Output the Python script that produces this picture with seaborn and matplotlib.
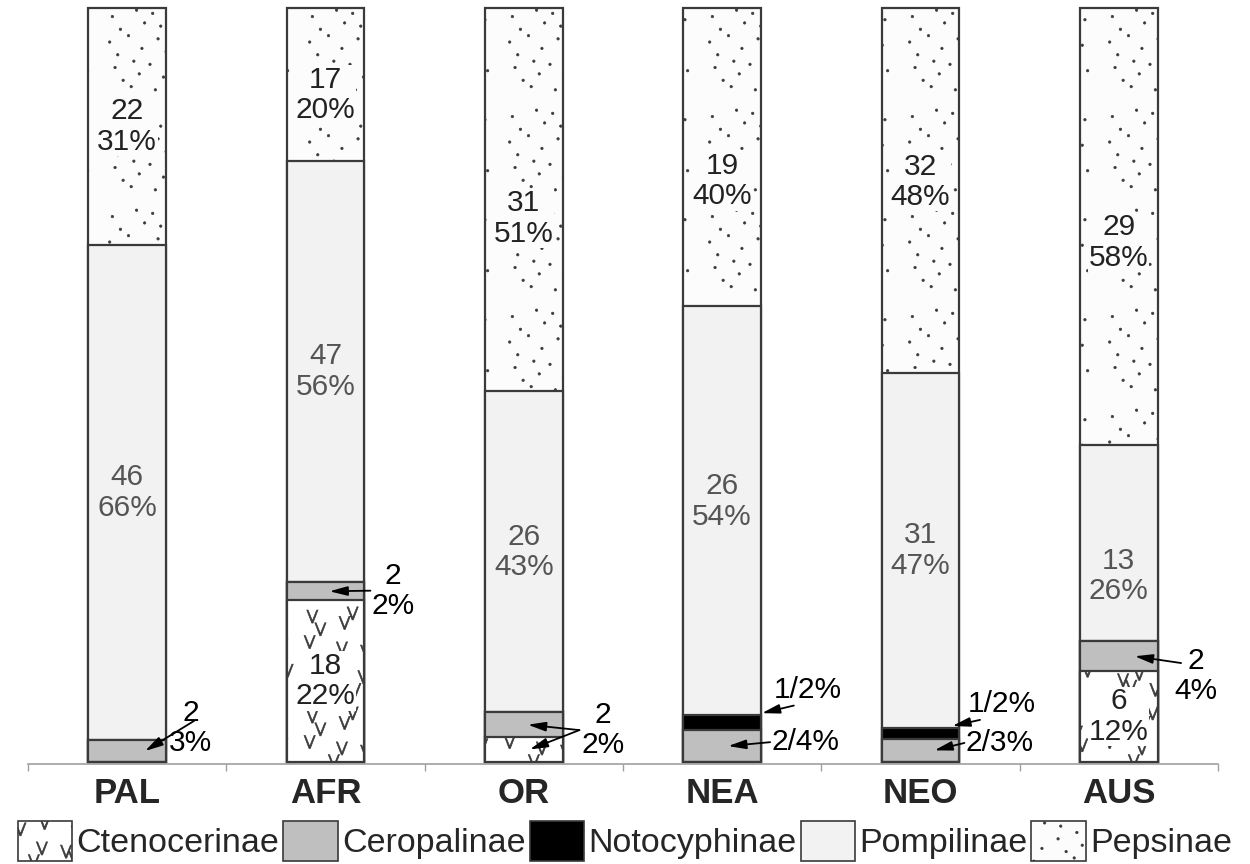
import warnings
import numpy as np
import pandas as pd
import seaborn as sns
import matplotlib
matplotlib.use("Agg")
import matplotlib.pyplot as plt
from matplotlib import hatch as mhatch
from matplotlib.path import Path
from matplotlib.patches import Patch

warnings.filterwarnings("ignore")

# data: species counts and printed percentages per region
regions = ["PAL", "AFR", "OR", "NEA", "NEO", "AUS"]
subfamilies = ["Ctenocerinae", "Ceropalinae", "Notocyphinae", "Pompilinae", "Pepsinae"]
ctenocerinae = [0, 18, 2, 0, 0, 6]
ceropalinae = [2, 2, 2, 2, 2, 2]
notocyphinae = [0, 0, 0, 1, 1, 0]
pompilinae = [46, 47, 26, 26, 31, 13]
pepsinae = [22, 17, 31, 19, 32, 29]

pct_cten = [0, 22, 2, 0, 0, 12]
pct_cero = [3, 2, 2, 4, 3, 4]
pct_noto = [0, 0, 0, 2, 2, 0]
pct_pomp = [66, 56, 43, 54, 47, 26]
pct_peps = [31, 20, 51, 40, 48, 58]


def halton(k, base):
    f, r = 1.0, 0.0
    while k > 0:
        f /= base
        r += f * (k % base)
        k //= base
    return r


def spread(n, shift):
    # scattered but even positions inside one hatch tile
    pts = np.array([[halton(k + shift, 2), halton(k + shift, 3)] for k in range(1, n + 1)])
    return pts * 0.86 + 0.07


class ScatterHatch(mhatch.HatchPatternBase):
    char = "?"
    per_tile = 0
    shift = 0
    verts = np.zeros((0, 2))
    kinds = np.zeros(0)

    def __init__(self, hatch, density):
        self.n = hatch.count(self.char) * self.per_tile
        self.num_vertices = self.n * len(self.verts)

    def set_vertices_and_codes(self, vertices, codes):
        pts = spread(self.n, self.shift)
        vertices[:] = (self.verts[None, :, :] + pts[:, None, :]).reshape(-1, 2)
        codes[:] = np.tile(self.kinds, self.n)


class VMarks(ScatterHatch):
    # little "v" ticks for Ctenocerinae, as thin filled chevrons
    char = "v"
    per_tile = 17
    shift = 5
    verts = np.array([[-0.056, 0.065], [-0.043, 0.065], [0.0, -0.042], [0.043, 0.065],
                      [0.056, 0.065], [0.006, -0.065], [-0.006, -0.065], [-0.056, 0.065]])
    kinds = np.array([Path.MOVETO] + [Path.LINETO] * 6 + [Path.CLOSEPOLY], dtype=Path.code_type)


_dot = Path.circle((0, 0), 0.012)


class Dots(ScatterHatch):
    # scattered dots for Pepsinae
    char = "p"
    per_tile = 26
    shift = 0
    verts = _dot.vertices
    kinds = _dot.codes


mhatch._hatch_types.extend([VMarks, Dots])

colors = {"Ctenocerinae": "#ffffff", "Ceropalinae": "#bfbfbf", "Notocyphinae": "#000000",
          "Pompilinae": "#f2f2f2", "Pepsinae": "#fcfcfc"}
hatches = {"Ctenocerinae": "v", "Ceropalinae": None, "Notocyphinae": None,
           "Pompilinae": None, "Pepsinae": "p"}
edge = "#3a3a3a"

sns.set_theme(style="white")
plt.rcParams["font.family"] = ["Liberation Sans", "DejaVu Sans"]
plt.rcParams["hatch.linewidth"] = 0.5

df = pd.DataFrame({"region": regions, "Ctenocerinae": ctenocerinae, "Ceropalinae": ceropalinae,
                   "Notocyphinae": notocyphinae, "Pompilinae": pompilinae, "Pepsinae": pepsinae})
counts = df[subfamilies]
share = counts.div(counts.sum(axis=1), axis=0) * 100
cum = share.cumsum(axis=1)
base = cum - share

fig, ax = plt.subplots(figsize=(12.5, 8.64), dpi=100)
fig.subplots_adjust(left=0.0224, right=0.9744, bottom=0.1157, top=0.9907)

# stacked bars drawn back to front
for name in reversed(subfamilies):
    sns.barplot(x=df["region"], y=cum[name], order=regions, color=colors[name],
                hatch=hatches[name], edgecolor=edge, linewidth=1.6, width=0.39,
                saturation=1, errorbar=None, clip_on=False, ax=ax)

ax.set_xlim(-0.5, 5.5)
ax.set_ylim(-0.3, 100)
ax.set_xlabel("")
ax.set_ylabel("")
ax.set_yticks([])
for s in ["left", "right", "top"]:
    ax.spines[s].set_visible(False)
ax.spines["bottom"].set_color("#a0a0a0")
ax.spines["bottom"].set_linewidth(1.2)
ax.set_xticks(range(len(regions)))
ax.set_xticklabels(regions, fontsize=25, fontweight="bold")
ax.set_xticks(np.arange(-0.5, 6, 1), minor=True)
ax.tick_params(axis="x", which="major", length=0, pad=9)
ax.tick_params(axis="x", which="minor", length=5, width=1, color="#a0a0a0", direction="out", bottom=True)

# labels inside large segments
label_shift = {("Pepsinae", "AFR"): -1.4, ("Pepsinae", "OR"): -2.5, ("Pepsinae", "NEA"): -3.2,
               ("Pepsinae", "NEO"): 1.2, ("Pepsinae", "AUS"): -2.1,
               ("Pompilinae", "NEA"): 1.2, ("Pompilinae", "AUS"): -4.4}
inside = {"Ctenocerinae": (ctenocerinae, pct_cten, "#222222"),
          "Pompilinae": (pompilinae, pct_pomp, "#555555"),
          "Pepsinae": (pepsinae, pct_peps, "#222222")}
for name, (vals, pcts, tc) in inside.items():
    for i, r in enumerate(regions):
        if share.loc[i, name] < 5:
            continue
        y = base.loc[i, name] + share.loc[i, name] / 2 + label_shift.get((name, r), 0)
        ax.text(i, y, f"{vals[i]}\n{pcts[i]}%", ha="center", va="center",
                fontsize=21.5, color=tc, linespacing=1.1,
                bbox=dict(facecolor=colors[name], edgecolor="none", pad=0.5))

ann_kw = dict(ha="center", va="center", fontsize=21.5, color="black", linespacing=1.1)


def arrow(relpos):
    return dict(arrowstyle="-|>,head_length=0.5,head_width=0.13", color="black", lw=1.3,
                shrinkA=0, shrinkB=0, patchA=None, relpos=relpos)


# small segments labelled with arrows (text positions are layout only)
cero_text = [(0.32, 4.5), (1.34, 22.7), (2.40, 4.2), (3.42, 2.6), (4.40, 2.5), (5.39, 11.4)]
cero_rel = [(0.58, 0.62), (-0.02, 0.5), (-0.05, 0.5), (-0.02, 0.5), (-0.02, 0.5), (0.15, 0.72)]
cero_tip_dx = [0.09, 0.02, 0.02, 0.03, 0.07, 0.08]
noto_text = {3: (3.43, 9.5), 4: (4.41, 7.6)}
noto_rel = {3: (0.3, -0.05), 4: (0.18, -0.05)}
noto_tip_dx = {3: 0.2, 4: 0.16}
for i, r in enumerate(regions):
    cero_mid = base.loc[i, "Ceropalinae"] + share.loc[i, "Ceropalinae"] / 2
    if notocyphinae[i] > 0:
        label = f"{ceropalinae[i]}/{pct_cero[i]}%"
    else:
        label = f"{ceropalinae[i]}\n{pct_cero[i]}%"
    ax.annotate(label, xy=(i + cero_tip_dx[i], cero_mid), xytext=cero_text[i],
                arrowprops=arrow(cero_rel[i]), **ann_kw)
    if notocyphinae[i] > 0:
        ax.annotate(f"{notocyphinae[i]}/{pct_noto[i]}%",
                    xy=(i + noto_tip_dx[i], cum.loc[i, "Notocyphinae"] + 0.2), xytext=noto_text[i],
                    arrowprops=arrow(noto_rel[i]), **ann_kw)
    if 0 < share.loc[i, "Ctenocerinae"] < 5:
        cten_mid = share.loc[i, "Ctenocerinae"] / 2
        hidden = dict(ann_kw, color=(0, 0, 0, 0))
        ax.annotate(label, xy=(i + 0.03, cten_mid), xytext=cero_text[i],
                    arrowprops=arrow(cero_rel[i]), **hidden)

handles = [Patch(facecolor=colors[n], edgecolor=edge, hatch=hatches[n], linewidth=1.2, label=n)
           for n in subfamilies]
fig.legend(handles=handles, loc="lower center", bbox_to_anchor=(0.5, 0.0), ncol=5,
           frameon=False, fontsize=24.5, handlelength=1.6, handleheight=1.4,
           handletextpad=0.12, columnspacing=0.12, borderpad=0.05, borderaxespad=0.05)

plt.savefig("out.png", dpi=100)
